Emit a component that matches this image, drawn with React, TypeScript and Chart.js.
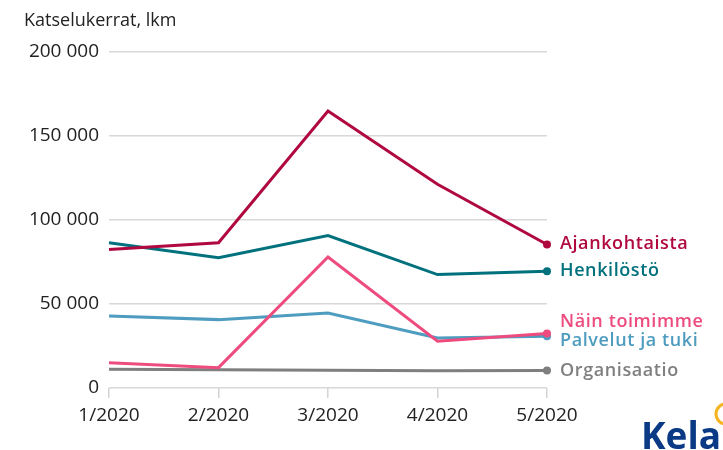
import React, { useEffect, useRef } from "react";
import { Chart, registerables } from "chart.js";

Chart.register(...registerables);

const categories = ["1/2020", "2/2020", "3/2020", "4/2020", "5/2020"];
const ajankohtaista = [82400, 86500, 164900, 121300, 85400];
const henkilosto = [86500, 77600, 90700, 67500, 69500];
const nainToimimme = [15100, 12100, 78000, 27800, 32400];
const palvelutJaTuki = [42900, 40700, 44600, 29800, 30800];
const organisaatio = [11100, 10900, 10600, 10300, 10400];
const seriesNames = ["Ajankohtaista", "Henkilöstö", "Näin toimimme", "Palvelut ja tuki", "Organisaatio"];
const seriesColors = ["#B0093F", "#00717D", "#EE4B7E", "#4E9CBF", "#7F7F7F"];
const labelNudges = [-1, 0, -12, 5, 0];
const yTicks = [0, 50000, 100000, 150000, 200000];
const yTitle = "Katselukerrat, lkm";

const fmt = (v: number) => {
  const s = Math.round(v).toString();
  return s.replace(/\B(?=(\d{3})+(?!\d))/g, " ");
};

const endLabels = {
  id: "endLabels",
  afterDatasetsDraw(chart: any) {
    const ctx = chart.ctx;
    const y = chart.scales.y;
    const x = chart.scales.x;
    ctx.save();
    ctx.font = "600 18px 'Open Sans'";
    (ctx as any).letterSpacing = "0.6px";
    ctx.textBaseline = "middle";
    ctx.textAlign = "left";
    chart.data.datasets.forEach((ds: any, i: number) => {
      const last = ds.data[ds.data.length - 1];
      const py = y.getPixelForValue(last) + labelNudges[i];
      const px = x.getPixelForValue(ds.data.length - 1) + 13;
      ctx.fillStyle = seriesColors[i];
      ctx.fillText(seriesNames[i], px, py);
    });
    (ctx as any).letterSpacing = "0px";
    // axis title
    ctx.fillStyle = "#222";
    ctx.font = "18px 'Open Sans'";
    ctx.textBaseline = "middle";
    ctx.fillText(yTitle, 24, 21);
    // logo
    ctx.fillStyle = "#0A3A85";
    ctx.font = "bold 37px 'Open Sans'";
    ctx.textBaseline = "alphabetic";
    ctx.fillText("Kela", 641, 449);
    ctx.strokeStyle = "#F5B320";
    ctx.lineWidth = 3;
    ctx.beginPath();
    ctx.arc(726, 414, 10, 0, Math.PI * 2);
    ctx.stroke();
    ctx.restore();
  },
};

export default function App() {
  const ref = useRef<HTMLCanvasElement>(null);
  useEffect(() => {
    document.body.style.margin = "0";
    const all = [ajankohtaista, henkilosto, nainToimimme, palvelutJaTuki, organisaatio];
    const chart = new Chart(ref.current!, {
      type: "line",
      data: {
        labels: categories,
        datasets: all.map((d, i) => ({
          label: seriesNames[i],
          data: d,
          borderColor: seriesColors[i],
          backgroundColor: seriesColors[i],
          borderWidth: 3,
          tension: 0,
          pointRadius: d.map((_, j) => (j === d.length - 1 ? 4 : 0)),
          pointBorderWidth: 0,
          order: i === 2 ? -1 : i,
        })),
      },
      options: {
        animation: false,
        responsive: false,
        devicePixelRatio: 1,
        layout: { padding: { top: 52, right: 176, left: 0, bottom: 0 } },
        plugins: { legend: { display: false }, tooltip: { enabled: false }, title: { display: false } },
        scales: {
          x: {
            offset: false,
            border: { display: false },
            grid: { drawOnChartArea: false, drawTicks: true, tickLength: 10, color: "#d4d4d4", lineWidth: 1.5 },
            ticks: { color: "#222", font: { family: "'Open Sans'", size: 19 }, padding: 6, maxRotation: 0 },
            afterFit: (s: any) => { s.height = 62; },
          },
          y: {
            min: 0,
            max: 200000,
            border: { display: false },
            grid: { drawTicks: false, color: "#d8d8d8", lineWidth: 1.5 },
            afterBuildTicks: (s: any) => { s.ticks = yTicks.map((v) => ({ value: v })); },
            ticks: {
              color: "#222",
              font: { family: "'Open Sans'", size: 19 },
              padding: 10,
              callback: (v: any) => fmt(Number(v)),
            },
            afterFit: (s: any) => { s.width = 109; },
          },
        },
      },
      plugins: [endLabels],
    });
    return () => chart.destroy();
  }, []);
  return (
    <div style={{ position: "fixed", left: 0, top: 0, width: 723, height: 450, background: "#fff" }}>
      <canvas ref={ref} width={723} height={450} style={{ width: 723, height: 450 }} />
    </div>
  );
}
